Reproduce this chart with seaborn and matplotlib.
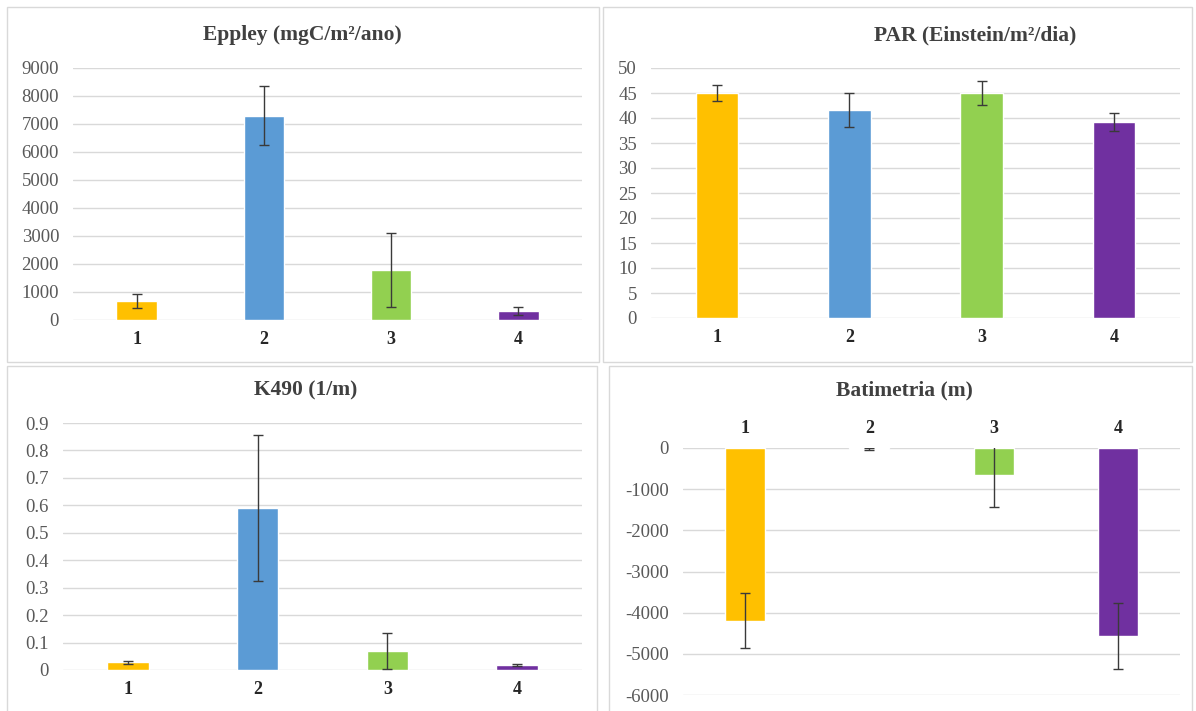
import numpy as np
import pandas as pd
import matplotlib
matplotlib.use("Agg")
import matplotlib.pyplot as plt
import seaborn as sns
from matplotlib.patches import Rectangle

# Stations (categories) and Excel-like colours
stations = ["1", "2", "3", "4"]
bar_colors = ["#FFC000", "#5B9BD5", "#92D050", "#7030A0"]

# Mean and standard deviation
eppley_mean = [680, 7300, 1790, 320]
eppley_sd = [255, 1055, 1335, 155]

par_mean = [45.0, 41.6, 45.0, 39.3]
par_sd = [1.65, 3.45, 2.4, 1.8]

k490_mean = [0.028, 0.59, 0.069, 0.018]
k490_sd = [0.005, 0.265, 0.064, 0.005]

bat_mean = [-4200, -20, -660, -4570]
bat_sd = [670, 30, 770, 800]

eppley_ticks = list(range(0, 9001, 1000))
par_ticks = list(range(0, 51, 5))
k490_ticks = [round(0.1 * i, 1) for i in range(10)]
bat_ticks = list(range(-6000, 1, 1000))

W, H = 1196, 711

sns.set_theme(style="white")
plt.rcParams["font.family"] = ["Liberation Serif", "DejaVu Serif"]
plt.rcParams["axes.unicode_minus"] = False

fig = plt.figure(figsize=(W / 100, H / 100), dpi=100)


def px_axes(left, right, top, bottom):
    # axes rectangle given in pixel coordinates of the final image
    return fig.add_axes([left / W, 1 - bottom / H, (right - left) / W, (bottom - top) / H])


def draw_panel(ax, mean, sd, ticks, ylim, top_labels=False):
    df = pd.DataFrame({"station": stations, "value": mean})
    sns.barplot(data=df, x="station", y="value", hue="station", palette=bar_colors,
                width=0.32, saturation=1, legend=False, ax=ax, zorder=2)
    ax.errorbar(np.arange(len(stations)), mean, yerr=sd, fmt="none",
                ecolor="#3a3a3a", elinewidth=1, capsize=3.5, capthick=1, zorder=3)
    ax.set_xlim(-0.5, len(stations) - 0.5)
    ax.set_ylim(*ylim)
    ax.set_yticks(ticks)
    ax.set_yticklabels([f"{t:g}" for t in ticks])
    ax.set_xlabel("")
    ax.set_ylabel("")
    for s in ax.spines.values():
        s.set_visible(False)
    ax.grid(axis="y", color="#D9D9D9", lw=1)
    ax.grid(axis="x", visible=False)
    ax.set_axisbelow(True)
    if top_labels:
        ax.xaxis.tick_top()
    ax.tick_params(axis="y", length=0, pad=10, labelsize=13.5, labelcolor="#595959")
    ax.tick_params(axis="x", length=0, pad=8, labelsize=13, labelcolor="#262626")
    ax.set_xticks(range(len(stations)))
    ax.set_xticklabels(stations, fontweight="bold")
    ax.patch.set_alpha(0)


# chart area borders
for x0, y0, x1, y1 in [(7, 7, 599, 362), (603, 7, 1192, 362),
                       (7, 366, 597, 712), (609, 366, 1192, 712)]:
    fig.patches.append(Rectangle((x0 / W, 1 - y1 / H), (x1 - x0) / W, (y1 - y0) / H,
                                 transform=fig.transFigure, fill=False,
                                 edgecolor="#D9D9D9", lw=1))

ax1 = px_axes(73, 582, 68, 320)
draw_panel(ax1, eppley_mean, eppley_sd, eppley_ticks, (0, 9000))

ax2 = px_axes(651, 1180, 68, 318)
draw_panel(ax2, par_mean, par_sd, par_ticks, (0, 50))

ax3 = px_axes(63, 582, 423, 670)
draw_panel(ax3, k490_mean, k490_sd, k490_ticks, (0, 0.9))

ax4 = px_axes(683, 1180, 448, 695)
draw_panel(ax4, bat_mean, bat_sd, bat_ticks, (-6000, 0), top_labels=True)

titles = [("Eppley (mgC/m²/ano)", 302, 35), ("PAR (Einstein/m²/dia)", 975, 35),
          ("K490 (1/m)", 306, 390), ("Batimetria (m)", 904, 390)]
for text, x, y in titles:
    fig.text(x / W, 1 - y / H, text, ha="center", va="center",
             fontsize=15.5, fontweight="bold", color="#404040")

fig.savefig("out.png", dpi=100, facecolor="white")
